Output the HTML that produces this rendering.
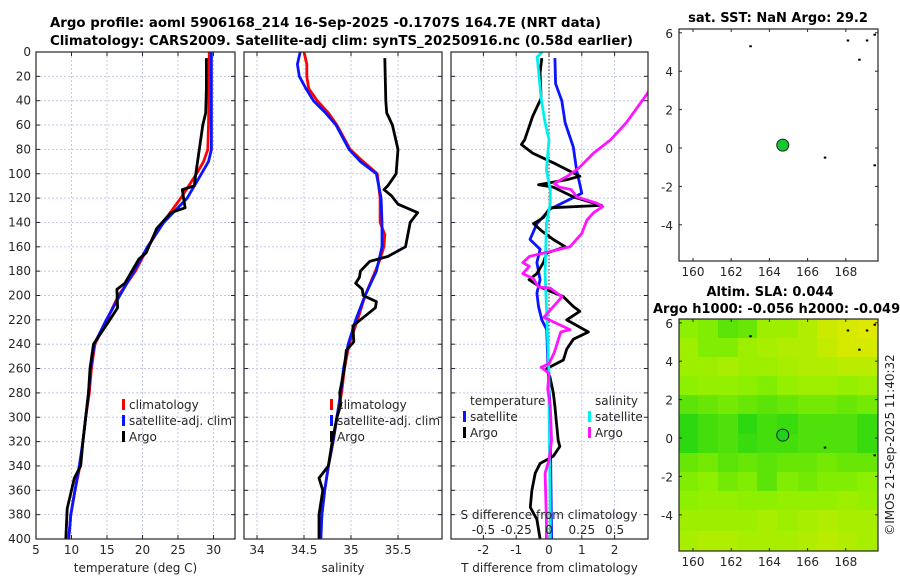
<!DOCTYPE html>
<html><head><meta charset="utf-8">
<style>
html,body{margin:0;padding:0;background:#fff;}
svg{display:block;font-family:"DejaVu Sans","Liberation Sans",sans-serif;}
.tk{font-size:12px;fill:#262626;}
.ttl{font-size:13px;font-weight:bold;fill:#000;}
</style></head>
<body>
<svg id="fig" width="900" height="580" viewBox="0 0 900 580" xmlns="http://www.w3.org/2000/svg">
<defs>
<clipPath id="c1"><rect x="36" y="52" width="199" height="487"/></clipPath>
<clipPath id="c2"><rect x="244" y="52" width="198" height="487"/></clipPath>
<clipPath id="c3"><rect x="451" y="52" width="197" height="487"/></clipPath>
<clipPath id="cm"><rect x="679" y="319" width="199" height="232"/></clipPath>
</defs>
<text class="ttl" x="50" y="27" textLength="551" lengthAdjust="spacingAndGlyphs">Argo profile: aoml 5906168_214 16-Sep-2025 -0.1707S 164.7E (NRT data)</text>
<text class="ttl" x="50" y="45" textLength="583" lengthAdjust="spacingAndGlyphs">Climatology: CARS2009. Satellite-adj clim: synTS_20250916.nc (0.58d earlier)</text>
<text class="ttl" x="778" y="22" text-anchor="middle">sat. SST: NaN Argo: 29.2</text>
<text class="ttl" x="770" y="296" text-anchor="middle">Altim. SLA: 0.044</text>
<text class="ttl" x="653" y="313">Argo h1000: -0.056 h2000: -0.049</text>
<text class="tk" transform="translate(894,445) rotate(-90)" text-anchor="middle" font-size="13">©IMOS 21-Sep-2025 11:40:32</text>
<g id="plots"></g>
</svg>
<script>
// ---- data ----
const depthTicks = [0,20,40,60,80,100,120,140,160,180,200,220,240,260,280,300,320,340,360,380,400];
const tTicks = [5,10,15,20,25,30];
const sTicks = [34,34.5,35,35.5];
const dTTicks = [-2,-1,0,1,2];
const dSTicks = [-0.5,-0.25,0,0.25,0.5];
const dSTickLabels = ['-0.5','-0.25','0','0.25','0.5'];

const climTDepth = [0,20,40,60,80,90,100,120,140,160,180,200,220,240,260,280,300,320,340,360,380,400];
const climT =      [29.4,29.4,29.35,29.3,29.2,28.6,27.6,25.4,22.9,20.8,19.0,16.6,15.0,13.3,12.8,12.5,12.0,11.6,11.2,10.5,9.9,9.6];
const satT =       [29.7,29.7,29.7,29.7,29.7,29.3,28.3,26.3,23.0,20.7,18.8,16.8,14.9,13.2,12.7,12.4,12.0,11.6,11.1,10.5,9.9,9.6];
const argoTDepth = [5,30,50,60,80,100,110,113,128,132,145,165,170,190,195,210,220,240,260,280,300,320,340,350,360,375,400];
const argoT =      [29.0,29.0,28.9,28.5,28.0,27.5,27.3,25.6,26.0,24.0,22.0,20.5,19.5,17.5,16.4,16.5,15.4,13.1,12.6,12.4,12.0,11.6,11.3,10.4,10.0,9.4,9.2];

const climSDepth = [0,10,20,30,40,50,60,70,80,90,100,120,140,150,160,170,180,200,220,240,260,280,300,320,340,360,380,400];
const climS = [34.5,34.53,34.53,34.55,34.64,34.76,34.85,34.92,34.99,35.13,35.28,35.31,35.31,35.36,35.35,35.31,35.26,35.15,35.07,34.98,34.93,34.9,34.85,34.81,34.76,34.72,34.69,34.67];
const satS =  [34.46,34.43,34.45,34.52,34.6,34.73,34.84,34.91,34.98,35.1,35.27,35.32,35.33,35.33,35.33,35.3,35.27,35.15,35.05,34.97,34.92,34.89,34.85,34.81,34.76,34.72,34.69,34.68];
const argoSDepth = [5,40,50,60,80,100,110,113,118,125,132,140,160,168,172,180,185,190,195,200,205,210,215,225,238,245,260,280,290,300,320,340,350,360,380,400];
const argoS = [35.36,35.37,35.38,35.44,35.5,35.48,35.39,35.35,35.43,35.5,35.71,35.63,35.58,35.39,35.2,35.1,35.09,35.05,35.12,35.13,35.27,35.26,35.18,35.02,35.03,34.95,34.93,34.88,34.89,34.85,34.8,34.76,34.66,34.7,34.66,34.66];

const dSatTDepth = [5,26,40,58,78,97,116,121,129,141,154,162,173,187,198,209,220,228,264,291,400];
const dSatT = [0.18,0.2,0.39,0.49,0.74,0.84,1.0,0.64,0.03,-0.37,-0.58,-0.27,-0.37,-0.27,-0.37,-0.32,-0.22,-0.07,-0.02,0.03,0.08];
const dArgoTDepth = [5,17,38,53,72,76,83,91,102,105,109,111,119,126,128,136,141,147,154,160,165,173,182,187,193,201,209,213,220,230,236,244,253,260,267,280,291,305,319,324,332,338,346,360,374,384,400];
const dArgoT = [-0.22,-0.27,-0.24,-0.5,-0.74,-0.84,-0.5,0.13,0.94,0.54,-0.32,0.13,0.74,1.6,0.03,-0.17,-0.47,-0.22,0.13,0.5,-0.07,-0.17,-0.37,-0.61,-0.27,0.44,0.74,0.94,0.54,1.2,0.74,0.54,0.44,-0.07,0.03,0.13,0.18,0.23,0.28,0.33,0.13,-0.27,-0.42,-0.52,-0.57,-0.37,-0.27];
const dSatSDepth = [0,4,38,58,72,97,113,124,141,182,209,264,291,384,400];
const dSatS = [-0.05,-0.09,-0.06,-0.03,0.0,-0.02,0.01,0.01,-0.02,-0.03,-0.02,0.0,0.0,0.01,0.01];
const dArgoSDepth = [5,20,34,58,72,83,95,102,108,111,113,119,124,127,132,138,149,160,164,168,173,176,182,186,193,194,201,207,218,228,230,247,256,259,264,277,291,319,335,346,384,400];
const dArgoS = [0.86,0.84,0.75,0.59,0.47,0.34,0.23,0.14,0.04,0.08,0.17,0.21,0.36,0.41,0.34,0.29,0.25,0.16,0.0,-0.15,-0.2,-0.15,-0.2,-0.12,-0.08,0.01,0.1,0.05,-0.04,0.16,0.09,0.04,0.0,-0.06,0.0,-0.01,0.01,0.02,0.0,-0.03,-0.02,-0.02];

const mapLonTicks = [160,162,164,166,168];
const mapLatTicks = [6,4,2,0,-2,-4];
const argoLon = 164.7, argoLat = 0.15;
const speckLon = [163.0,168.1,169.1,168.7,169.5,166.9,169.5];
const speckLat = [5.3,5.6,5.6,4.6,5.9,-0.5,-0.9];
const slaLon = [159.8,160.8,161.9,162.9,163.9,165.0,166.0,167.0,168.1,169.1];
const slaLat = [5.7,4.7,3.7,2.7,1.7,0.7,-0.3,-1.3,-2.3,-3.3,-4.3,-5.4];
const slaVal = [
 [0.5,0.45,0.3,0.35,0.6,0.6,0.7,0.85,0.9,0.95],
 [0.6,0.45,0.45,0.6,0.65,0.7,0.7,0.8,0.9,0.9],
 [0.6,0.6,0.65,0.6,0.6,0.65,0.7,0.7,0.75,0.75],
 [0.5,0.55,0.55,0.5,0.45,0.55,0.6,0.6,0.55,0.6],
 [0.3,0.35,0.4,0.35,0.3,0.35,0.4,0.4,0.35,0.4],
 [0.1,0.2,0.25,0.1,0.2,0.15,0.25,0.25,0.25,0.15],
 [0.1,0.2,0.25,0.15,0.2,0.2,0.25,0.25,0.25,0.15],
 [0.35,0.4,0.3,0.35,0.3,0.35,0.35,0.4,0.35,0.35],
 [0.45,0.5,0.4,0.45,0.3,0.45,0.4,0.45,0.45,0.5],
 [0.5,0.55,0.55,0.5,0.5,0.55,0.55,0.55,0.6,0.55],
 [0.6,0.6,0.6,0.6,0.65,0.6,0.65,0.7,0.65,0.65],
 [0.65,0.7,0.7,0.65,0.65,0.65,0.7,0.75,0.7,0.65]
];

// ---- scales ----
const Y0 = 52, Y1 = 539;
const yD = d => Y0 + d * (Y1 - Y0) / 400;
const xT = t => 36 + (t - 5) * 7.1;
const xS = s => 257 + (s - 34) * 94;
const xDT = t => 549 + t * 32.8;
const xDS = s => 549 + s * 131.2;
const mapX = l => 693 + (l - 160) * 19.1;
const topY = la => 148 - la * 19.2;
const botY = la => 438 - la * 19.2;

const NS = 'http://www.w3.org/2000/svg';
const root = document.getElementById('plots');
function mk(tag, attrs, parent) {
  const e = document.createElementNS(NS, tag);
  for (const k in attrs) e.setAttribute(k, attrs[k]);
  (parent || root).appendChild(e);
  return e;
}
function txt(str, x, y, anchor, parent, size) {
  const t = mk('text', {x: x, y: y, 'text-anchor': anchor || 'middle', class: 'tk'}, parent);
  if (size) t.setAttribute('font-size', size);
  t.textContent = str;
  return t;
}

function panel(name, x0, x1, xs, ticks, labels, ylabels, xlabel) {
  const g = mk('g', {});
  
  
  ticks.forEach(v => {
    const x = xs(v);
    const l = mk('line', {x1: x, x2: x, y1: Y0, y2: Y1, stroke: '#c4c8e8', 'stroke-width': 1, 'stroke-dasharray': '2,2'}, g);
    
    
    mk('line', {x1: x, x2: x, y1: Y1, y2: Y1 - 4, stroke: '#262626'}, g);
    mk('line', {x1: x, x2: x, y1: Y0, y2: Y0 + 4, stroke: '#262626'}, g);
  });
  depthTicks.forEach(d => {
    const y = yD(d);
    if (d > 0 && d < 400) {
      const l = mk('line', {x1: x0, x2: x1, y1: y, y2: y, stroke: '#c4c8e8', 'stroke-width': 1, 'stroke-dasharray': '2,2'}, g);
      
      
    }
    mk('line', {x1: x0, x2: x0 + 4, y1: y, y2: y, stroke: '#262626'}, g);
    mk('line', {x1: x1, x2: x1 - 4, y1: y, y2: y, stroke: '#262626'}, g);
    if (ylabels) {
      const t = txt(String(d), x0 - 5, y + 4, 'end', g, 13);
      
      
    }
  });
  ticks.forEach((v, i) => {
    const t = txt(labels[i], xs(v), Y1 + 15, 'middle', g, 13);
    
    
  });
  const xl = txt(xlabel, (x0 + x1) / 2, 572, 'middle', g, 13);
  
  
  return g;
}

function series(name, depths, vals, xs, color, clip, width) {
  let d = '';
  depths.forEach((dp, i) => { d += (i ? 'L' : 'M') + xs(vals[i]).toFixed(1) + ',' + yD(dp).toFixed(1); });
  const p = mk('path', {d: d, fill: 'none', stroke: color, 'stroke-width': width || 2.8, 'stroke-linejoin': 'round', 'clip-path': 'url(#' + clip + ')'});
  
  
}

function frame(x0, y0, x1, y1, name) {
  const r = mk('rect', {x: x0, y: y0, width: x1 - x0, height: y1 - y0, fill: 'none', stroke: '#262626', 'stroke-width': 1.2});
  
  
}

function legend(x, y, color, label, name) {
  mk('rect', {x: x, y: y - 10, width: 3, height: 11, fill: color});
  const t = txt(label, x + 7, y, 'start', null, 13);
  
  
}

// panel 1: temperature
panel('temperature-panel', 36, 235, xT, tTicks, tTicks.map(String), true, 'temperature (deg C)');
series('climatology-temperature-line', climTDepth, climT, xT, '#ff0000', 'c1');
series('satellite-temperature-line', climTDepth, satT, xT, '#0a14ff', 'c1');
series('argo-temperature-line', argoTDepth, argoT, xT, '#000000', 'c1');
frame(36, Y0, 235, Y1, 'temperature-axes');
legend(122, 409, '#ff0000', 'climatology', 'legend-climatology');
legend(122, 425, '#0a14ff', 'satellite-adj. clim', 'legend-satellite-adj-clim');
legend(122, 441, '#000000', 'Argo', 'legend-argo');

// panel 2: salinity
panel('salinity-panel', 244, 442, xS, sTicks, ['34','34.5','35','35.5'], false, 'salinity');
series('climatology-salinity-line', climSDepth, climS, xS, '#ff0000', 'c2');
series('satellite-salinity-line', climSDepth, satS, xS, '#0a14ff', 'c2');
series('argo-salinity-line', argoSDepth, argoS, xS, '#000000', 'c2');
frame(244, Y0, 442, Y1, 'salinity-axes');
legend(330, 409, '#ff0000', 'climatology', 'legend-climatology-s');
legend(330, 425, '#0a14ff', 'satellite-adj. clim', 'legend-satellite-adj-clim-s');
legend(330, 441, '#000000', 'Argo', 'legend-argo-s');

// panel 3: differences
panel('difference-panel', 451, 648, xDT, dTTicks, dTTicks.map(String), false, 'T difference from climatology');
const zl = mk('line', {x1: xDT(0), x2: xDT(0), y1: Y0, y2: Y1, stroke: '#333', 'stroke-width': 1, 'stroke-dasharray': '1.5,2'});


series('satellite-temperature-difference', dSatTDepth, dSatT, xDT, '#0a14ff', 'c3');
series('argo-temperature-difference', dArgoTDepth, dArgoT, xDT, '#000000', 'c3');
series('satellite-salinity-difference', dSatSDepth, dSatS, xDS, '#00f0f0', 'c3');
series('argo-salinity-difference', dArgoSDepth, dArgoS, xDS, '#ff14ff', 'c3');
frame(451, Y0, 648, Y1, 'difference-axes');
const st = txt('S difference from climatology', 549, 519, 'middle', null, 13);


dSTicks.forEach((v, i) => {
  const t = txt(dSTickLabels[i], xDS(v), 534, 'middle', null, 13);
  
  
});
const lt1 = txt('temperature', 470, 405, 'start', null, 13);


const lt2 = txt('salinity', 595, 405, 'start', null, 13);


legend(463, 421, '#0a14ff', 'satellite', 'legend-temp-satellite');
legend(463, 437, '#000000', 'Argo', 'legend-temp-argo');
legend(588, 421, '#00f0f0', 'satellite', 'legend-sal-satellite');
legend(588, 437, '#ff14ff', 'Argo', 'legend-sal-argo');

// maps
function slaColor(v) {
  const a = [20, 210, 20], b = [140, 240, 0], c = [232, 232, 0];
  let p, q, f;
  if (v < 0.5) { p = a; q = b; f = v / 0.5; } else { p = b; q = c; f = (v - 0.5) / 0.5; }
  return 'rgb(' + p.map((x, i) => Math.round(x + (q[i] - x) * f)).join(',') + ')';
}
function mapAxes(name, y0, y1, ys) {
  const g = mk('g', {});
  
  
  mapLonTicks.forEach(l => {
    const x = mapX(l);
    mk('line', {x1: x, x2: x, y1: y1, y2: y1 - 3, stroke: '#262626'}, g);
    mk('line', {x1: x, x2: x, y1: y0, y2: y0 + 3, stroke: '#262626'}, g);
    const t = txt(String(l), x, y1 + 15, 'middle', g, 13);
    
    
  });
  mapLatTicks.forEach(la => {
    const y = ys(la);
    mk('line', {x1: 679, x2: 682, y1: y, y2: y, stroke: '#262626'}, g);
    mk('line', {x1: 878, x2: 875, y1: y, y2: y, stroke: '#262626'}, g);
    const t = txt(String(la), 673, y + 5, 'end', g, 13);
    
    
  });
  return g;
}
function specks(ys) {
  speckLon.forEach((l, i) => {
    const r = mk('rect', {x: mapX(l) - 1, y: ys(speckLat[i]) - 1, width: 2.5, height: 2, fill: '#000'});
    
    
  });
}
// top SST map
mapAxes('sst-map', 29, 261, topY);
specks(topY);
const c1 = mk('circle', {cx: mapX(argoLon), cy: topY(argoLat), r: 6, fill: '#14c832', stroke: '#222', 'stroke-width': 1});


frame(679, 29, 878, 261, 'sst-map-axes');

// bottom SLA map
const hm = mk('g', {'clip-path': 'url(#cm)'});


function edges(arr) {
  const e = [arr[0] - (arr[1] - arr[0]) / 2];
  for (let i = 0; i < arr.length - 1; i++) e.push((arr[i] + arr[i + 1]) / 2);
  e.push(arr[arr.length - 1] + (arr[arr.length - 1] - arr[arr.length - 2]) / 2);
  return e;
}
const lonE = edges(slaLon), latE = edges(slaLat);
lonE[0] -= 1; lonE[lonE.length - 1] += 1; latE[0] += 1; latE[latE.length - 1] -= 1;
slaLat.forEach((la, r) => {
  slaLon.forEach((lo, c) => {
    const x0 = Math.floor(mapX(lonE[c])), x1 = Math.ceil(mapX(lonE[c + 1]));
    const y0 = Math.floor(botY(latE[r])), y1 = Math.ceil(botY(latE[r + 1]));
    const cell = mk('rect', {x: x0, y: y0, width: x1 - x0 + 1, height: y1 - y0 + 1, fill: slaColor(slaVal[r][c])}, hm);
    
    
  });
});
mapAxes('sla-map', 319, 551, botY);
specks(botY);
const c2 = mk('circle', {cx: mapX(argoLon), cy: botY(argoLat), r: 6, fill: '#1ed21e', stroke: '#222', 'stroke-width': 1});


frame(679, 319, 878, 551, 'sla-map-axes');
</script>
</body></html>
